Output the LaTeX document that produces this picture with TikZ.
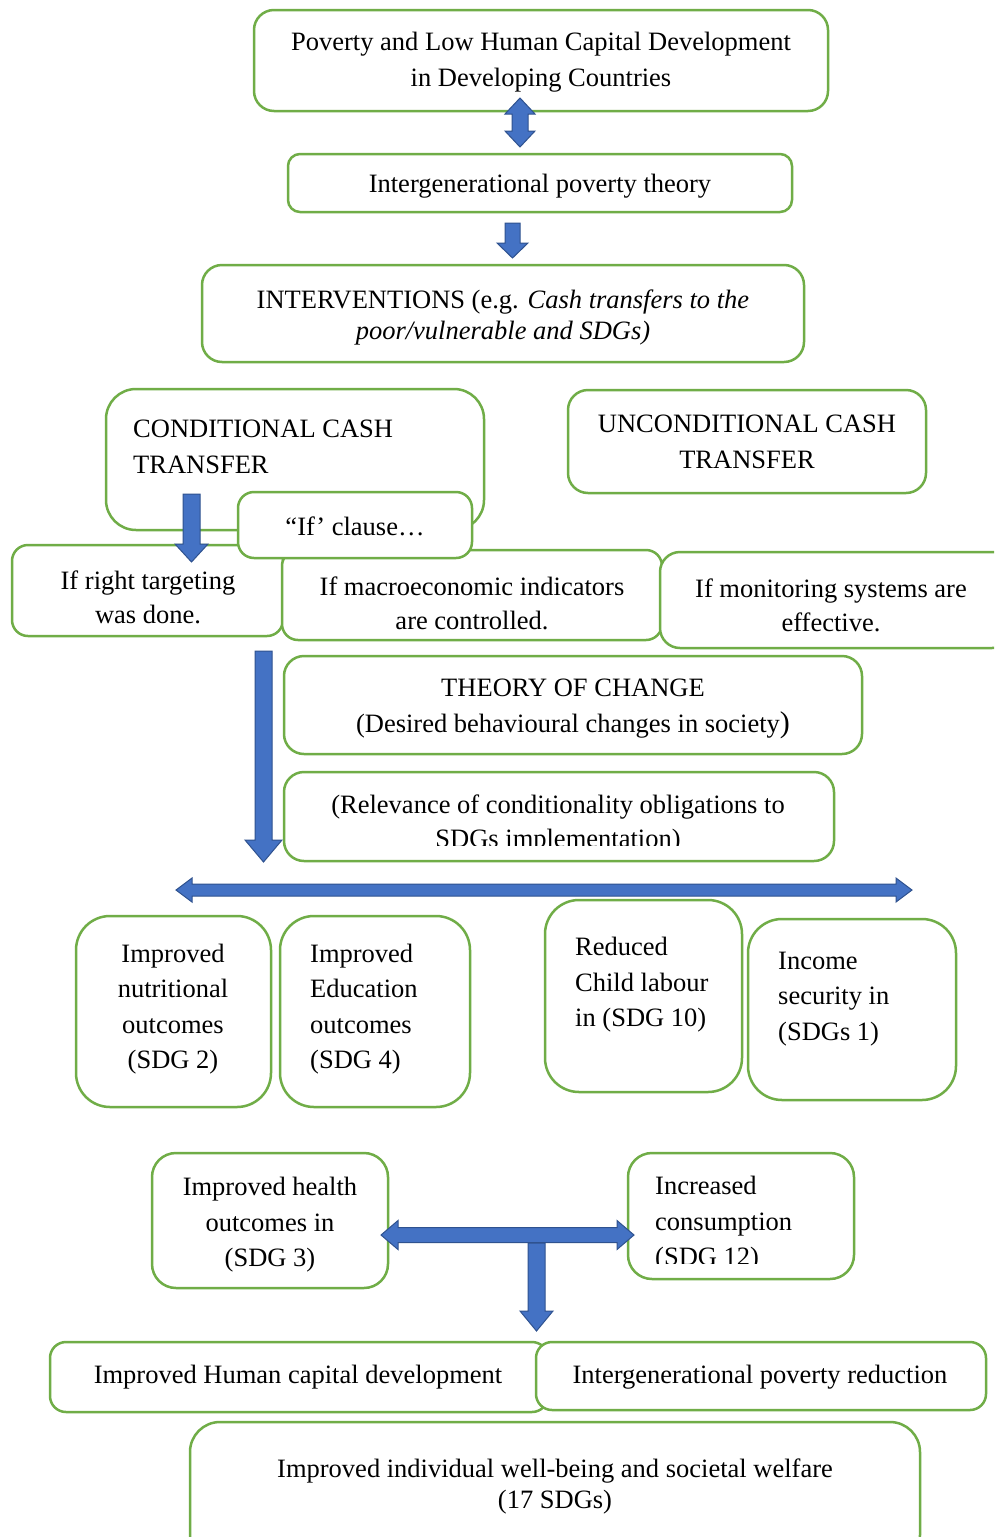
\documentclass[tikz,border=0pt]{standalone}
\usepackage{fontspec}
\setmainfont{Liberation Serif}
\definecolor{boxgreen}{HTML}{70AD47}
\definecolor{arrowblue}{HTML}{4472C4}
\definecolor{arrowedge}{HTML}{2F528F}
\tikzset{
  gbox/.style={draw=boxgreen, line width=2.5pt, fill=white, rounded corners=#1, inner sep=0pt, outer sep=0pt},
  gbox/.default=16pt,
  txt/.style={font=\fontsize{26.5}{35.5}\selectfont, inner sep=0pt, align=center},
  blockarrow/.style={fill=arrowblue, draw=arrowedge, line width=1pt, line join=miter},
}
% box: name, x1, y1, x2, y2, corner radius
\newcommand\bx[6]{\node[gbox=#6pt, minimum width={(#4-#2)*1pt}, minimum height={(#5-#3)*1pt}] (#1) at ({(#2+#4)/2},{(#3+#5)/2}) {};}
% down arrow: x, ytop, ytip, shaft half, head half, head length
\newcommand\dnarrow[6]{\filldraw[blockarrow] ({#1-#4},#2) -- ({#1+#4},#2) -- ({#1+#4},{#3-#6}) -- ({#1+#5},{#3-#6}) -- (#1,#3) -- ({#1-#5},{#3-#6}) -- ({#1-#4},{#3-#6}) -- cycle;}
% vertical double arrow: x, ytop, ybottom, shaft half, head half, head length
\newcommand\vdarrow[6]{\filldraw[blockarrow] (#1,#2) -- ({#1+#5},{#2+#6}) -- ({#1+#4},{#2+#6}) -- ({#1+#4},{#3-#6}) -- ({#1+#5},{#3-#6}) -- (#1,#3) -- ({#1-#5},{#3-#6}) -- ({#1-#4},{#3-#6}) -- ({#1-#4},{#2+#6}) -- ({#1-#5},{#2+#6}) -- cycle;}
% horizontal double arrow: y, xleft, xright, shaft half, head half, head length
\newcommand\hdarrow[6]{\filldraw[blockarrow] (#2,#1) -- ({#2+#6},{#1-#5}) -- ({#2+#6},{#1-#4}) -- ({#3-#6},{#1-#4}) -- ({#3-#6},{#1-#5}) -- (#3,#1) -- ({#3-#6},{#1+#5}) -- ({#3-#6},{#1+#4}) -- ({#2+#6},{#1+#4}) -- ({#2+#6},{#1+#5}) -- cycle;}
\begin{document}
\begin{tikzpicture}[x=1pt,y=-1pt]
\clip (0,0) rectangle (994,1537);
\fill[white] (0,0) rectangle (994,1537);

% top
\bx{top}{254}{10}{828}{111}{20}
\node[txt] (ttop) at (541,62) {Poverty and Low Human Capital Development\\in Developing Countries};
\bx{igp}{288}{154}{792}{212}{12}
\node[txt] (tigp) at (540,186) {Intergenerational poverty theory};
\vdarrow{520}{98}{147}{8}{15}{16}
\dnarrow{512.5}{223}{258}{7.5}{15.5}{15}

\bx{interv}{202}{265}{804}{362}{20}
\node[txt, font=\fontsize{26.5}{31}\selectfont] (tinterv) at (503,317) {INTERVENTIONS (e.g. \textit{Cash transfers to the}\\\textit{poor/vulnerable and SDGs)}};

% conditional / unconditional
\bx{cond}{106}{389}{484}{530}{30}
\node[txt, align=left, anchor=west] (tcond) at (133,447) {CONDITIONAL CASH\\TRANSFER};
\bx{uncond}{568}{390}{926}{493}{20}
\node[txt] (tuncond) at (747,442) {UNCONDITIONAL CASH\\TRANSFER};

% if boxes
\bx{target}{12}{545}{283}{636}{16}
\node[txt, font=\fontsize{26.5}{34}\selectfont] (ttarget) at (148,597) {If right targeting\\was done.};
\bx{macro}{282}{550}{662}{640}{16}
\node[txt, font=\fontsize{26.5}{34}\selectfont] (tmacro) at (472,603) {If macroeconomic indicators\\are controlled.};
\bx{monitor}{660}{552}{1012}{648}{20}
\node[txt, font=\fontsize{26.5}{34}\selectfont] (tmonitor) at (831,605) {If monitoring systems are\\effective.};
\bx{ifcl}{238}{492}{472}{558}{16}
\node[txt] (tifcl) at (355,526) {“If’ clause…};
\dnarrow{191.5}{494}{562}{8.5}{16.5}{18}

% theory of change
\dnarrow{263.5}{651}{862}{8.5}{18.5}{22}
\bx{theory}{284}{656}{862}{754}{20}
\node[txt] (ttheory) at (573,709) {THEORY OF CHANGE\\(Desired behavioural changes in society{\fontsize{30}{35.5}\selectfont)}};
\bx{relev}{284}{772}{834}{861}{20}
\begin{scope}
\clip (284,772) rectangle (834,845);
\node[txt, font=\fontsize{26.5}{34}\selectfont] (trelev) at (558,824) {(Relevance of conditionality obligations to\\SDGs implementation)};
\end{scope}

\hdarrow{890}{176}{912}{6}{12}{16}

% SDG boxes
\bx{nutri}{76}{916}{271}{1107}{34}
\node[txt] (tnutri) at (173,1009) {Improved\\nutritional\\outcomes\\(SDG 2)};
\bx{educ}{280}{916}{470}{1107}{34}
\node[txt, align=left, anchor=west] (teduc) at (310,1009) {Improved\\Education\\outcomes\\(SDG 4)};
\bx{child}{545}{900}{742}{1092}{34}
\node[txt, align=left, anchor=west] (tchild) at (575,985) {Reduced\\Child labour\\in (SDG 10)};
\bx{income}{748}{919}{956}{1100}{34}
\node[txt, align=left, anchor=west] (tincome) at (778,999) {Income\\security in\\(SDGs 1)};

% health / consumption
\bx{health}{152}{1153}{388}{1288}{24}
\node[txt] (thealth) at (270,1225) {Improved health\\outcomes in\\(SDG 3)};
\bx{consum}{628}{1153}{854}{1279}{24}
\begin{scope}
\clip (628,1153) rectangle (854,1263);
\node[txt, align=left, anchor=west] (tconsum) at (655,1224) {Increased\\consumption\\(SDG 12)};
\end{scope}
\hdarrow{1235}{381}{634}{7.5}{14.5}{17}
\dnarrow{536.5}{1243}{1331}{8.5}{16.5}{20}

% bottom
\bx{hcap}{50}{1342}{548}{1412}{16}
\node[txt] (thcap) at (298,1377) {Improved Human capital development};
\bx{ipr}{536}{1342}{986}{1410}{16}
\node[txt] (tipr) at (760,1377) {Intergenerational poverty reduction};
\bx{well}{190}{1422}{920}{1565}{30}
\node[txt, font=\fontsize{26.5}{31}\selectfont] (twell) at (555,1486) {Improved individual well-being and societal welfare\\(17 SDGs)};
\end{tikzpicture}
\end{document}
